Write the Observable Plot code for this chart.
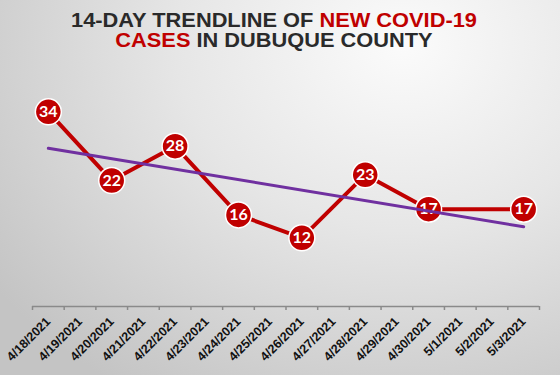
<!DOCTYPE html>
<html><head><meta charset="utf-8">
<script src="https://cdn.jsdelivr.net/npm/d3@7"></script>
<script src="https://cdn.jsdelivr.net/npm/@observablehq/plot@0.6"></script>
<style>
html,body{margin:0;padding:0;}
body{width:560px;height:375px;overflow:hidden;
background:radial-gradient(ellipse 90% 110% at 72% 12%, #fbfbfb 0%, #e6e6e6 45%, #c4c4c4 100%);}
#title{padding-top:10px;height:40px;text-align:center;font-family:"Liberation Sans",Arial,sans-serif;font-weight:bold;font-size:20px;line-height:20px;color:#2a2a2a;padding-right:12px;transform:scaleX(1.09);transform-origin:274px 0;}
#title div{height:20px;}
#title .r{color:#c00000;}
svg{display:block;background:transparent;}
</style></head>
<body>
<div id="title"><div>14-DAY TRENDLINE OF <span class="r">NEW COVID-19</span></div><div><span class="r">CASES</span> IN DUBUQUE COUNTY</div></div>
<div id="chart"></div>
<script>
const dates = ["4/18/2021","4/19/2021","4/20/2021","4/21/2021","4/22/2021","4/23/2021","4/24/2021","4/25/2021","4/26/2021","4/27/2021","4/28/2021","4/29/2021","4/30/2021","5/1/2021","5/2/2021","5/3/2021"];
const caseDates = ["4/18/2021","4/20/2021","4/22/2021","4/24/2021","4/26/2021","4/28/2021","4/30/2021","5/3/2021"];
const cases = [34,22,28,16,12,23,17,17];

const data = caseDates.map((d,i)=>({i: dates.indexOf(d), v: cases[i]}));
const centers = dates.map((d,i)=>i);
const bounds = dates.map((d,i)=>i-0.5).concat([dates.length-0.5]);

const chart = Plot.plot({
  width: 560, height: 325,
  marginLeft: 32, marginRight: 21, marginTop: 27, marginBottom: 69,
  style: {background: "transparent", overflow: "visible"},
  x: {type: "linear", domain: [-0.5, dates.length-0.5], axis: null, label: null},
  y: {domain: [0, 40], axis: null, label: null},
  marks: [
    Plot.ruleY([0], {stroke: "#8a8a8a", strokeWidth: 1.5}),
    Plot.axisX({ticks: bounds, tickFormat: () => "", tickSize: 4, stroke: "#8a8a8a", strokeWidth: 1.5, label: null}),
    Plot.axisX({ticks: centers, tickFormat: i => dates[i], tickSize: 0, tickRotate: -45, tickPadding: 13, label: null,
      fontWeight: "bold", fontSize: 12.5, fontFamily: "Liberation Sans, Arial, sans-serif", fill: "#111"}),
    Plot.line(data, {x: "i", y: "v", stroke: "#c00000", strokeWidth: 4}),
    Plot.dot(data, {x: "i", y: "v", r: 13, fill: "#c00000", stroke: "white", strokeWidth: 1.5}),
    Plot.text(data, {x: "i", y: "v", text: "v", fill: "white", fontSize: 16, fontWeight: "bold", fontFamily: "Lato, sans-serif"}),
    Plot.linearRegressionY(data, {x: "i", y: "v", ci: 0, stroke: "#7030a0", strokeWidth: 3})
  ]
});
document.getElementById("chart").append(chart);
</script>
</body></html>
